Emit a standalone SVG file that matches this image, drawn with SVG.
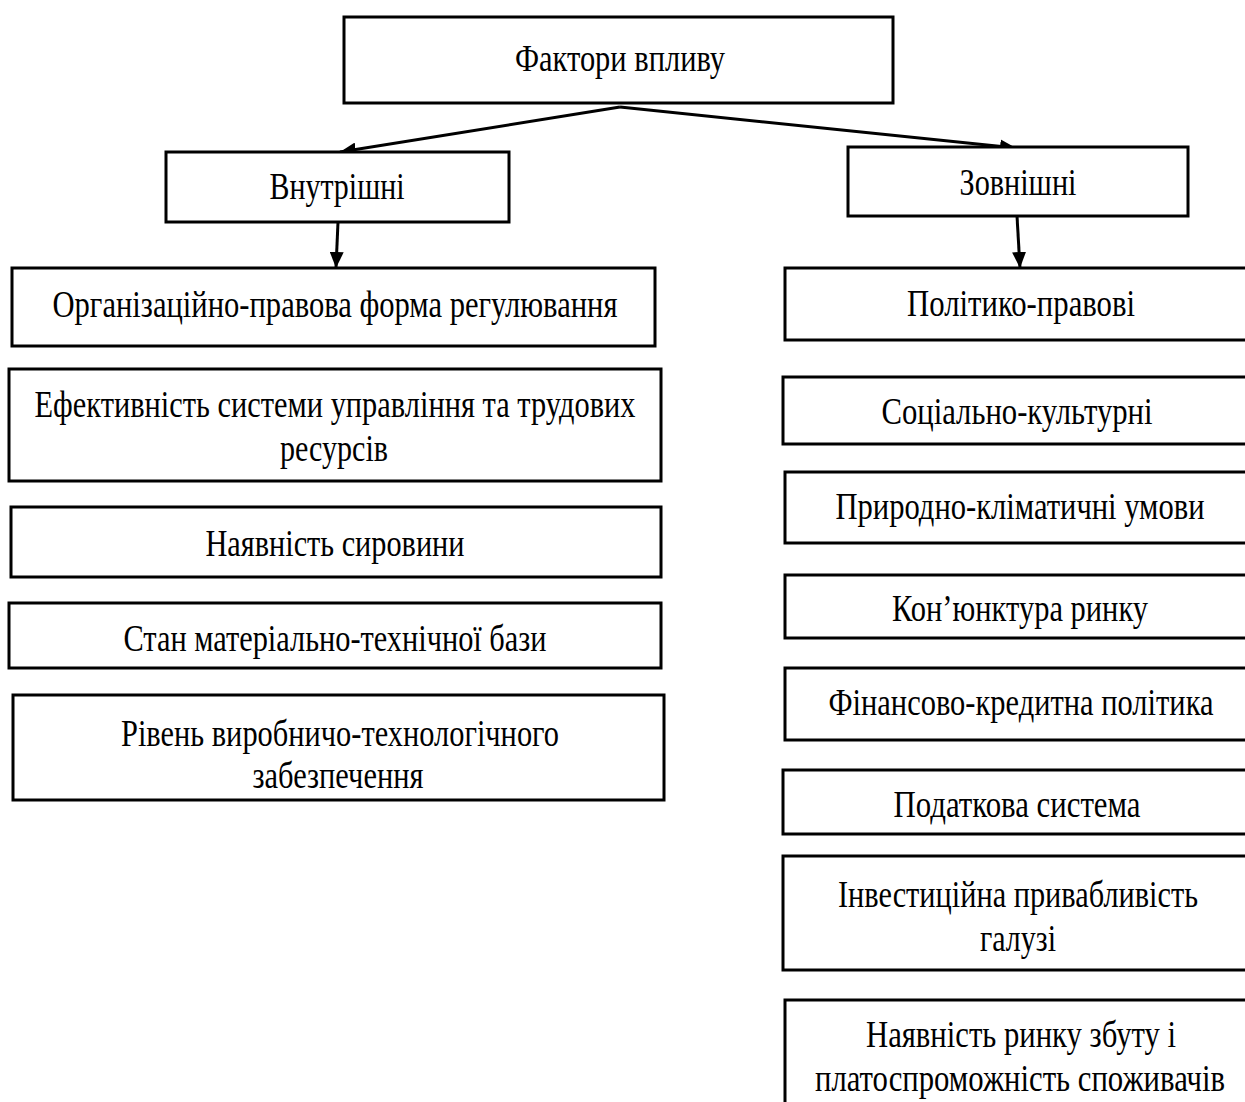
<svg xmlns="http://www.w3.org/2000/svg" width="1245" height="1102" viewBox="0 0 1245 1102">
<style>
.box{fill:#fff;stroke:#000;stroke-width:3}
.t{font-family:"Liberation Serif","Times New Roman",serif;font-size:37px;fill:#000;text-anchor:middle}
.c{stroke:#000;stroke-width:3;fill:none}
</style>
<defs>
<marker id="ah" viewBox="0 0 16 14" refX="16" refY="7" markerWidth="16" markerHeight="14" markerUnits="userSpaceOnUse" orient="auto">
<path d="M0,0 L16,7 L0,14 Z" fill="#000"/>
</marker>
</defs>
<rect width="1245" height="1102" fill="#fff"/>
<g id="connectors">
<line class="c" x1="620" y1="107" x2="340" y2="152" marker-end="url(#ah)"/>
<line class="c" x1="620" y1="107" x2="1016" y2="148" marker-end="url(#ah)"/>
<line class="c" x1="338" y1="222" x2="336" y2="268" marker-end="url(#ah)"/>
<line class="c" x1="1017" y1="216" x2="1020" y2="268" marker-end="url(#ah)"/>
</g>
<g id="n-top"><rect class="box" x="344" y="17" width="549" height="86"/><text class="t" x="620" y="71" textLength="210" lengthAdjust="spacingAndGlyphs">Фактори впливу</text></g>
<g id="n-int"><rect class="box" x="166" y="152" width="343" height="70"/><text class="t" x="337" y="199" textLength="135" lengthAdjust="spacingAndGlyphs">Внутрішні</text></g>
<g id="n-ext"><rect class="box" x="848" y="147" width="340" height="69"/><text class="t" x="1018" y="195" textLength="117" lengthAdjust="spacingAndGlyphs">Зовнішні</text></g>
<g id="n-l1"><rect class="box" x="12" y="268" width="643" height="78"/><text class="t" x="335" y="317" textLength="565" lengthAdjust="spacingAndGlyphs">Організаційно-правова форма регулювання</text></g>
<g id="n-l2"><rect class="box" x="9" y="369" width="652" height="112"/><text class="t" x="335" y="417" textLength="601" lengthAdjust="spacingAndGlyphs">Ефективність системи управління та трудових</text><text class="t" x="334" y="461" textLength="108" lengthAdjust="spacingAndGlyphs">ресурсів</text></g>
<g id="n-l3"><rect class="box" x="11" y="507" width="650" height="70"/><text class="t" x="335" y="556" textLength="259" lengthAdjust="spacingAndGlyphs">Наявність сировини</text></g>
<g id="n-l4"><rect class="box" x="9" y="603" width="652" height="65"/><text class="t" x="335" y="651" textLength="423" lengthAdjust="spacingAndGlyphs">Стан матеріально-технічної бази</text></g>
<g id="n-l5"><rect class="box" x="13" y="695" width="651" height="105"/><text class="t" x="340" y="746" textLength="438" lengthAdjust="spacingAndGlyphs">Рівень виробничо-технологічного</text><text class="t" x="338" y="788" textLength="171" lengthAdjust="spacingAndGlyphs">забезпечення</text></g>
<g id="n-r1"><rect class="box" x="785" y="268" width="462" height="72"/><text class="t" x="1021" y="316" textLength="228" lengthAdjust="spacingAndGlyphs">Політико-правові</text></g>
<g id="n-r2"><rect class="box" x="783" y="377" width="464" height="67"/><text class="t" x="1017" y="424" textLength="271" lengthAdjust="spacingAndGlyphs">Соціально-культурні</text></g>
<g id="n-r3"><rect class="box" x="785" y="472" width="462" height="71"/><text class="t" x="1020" y="519" textLength="369" lengthAdjust="spacingAndGlyphs">Природно-кліматичні умови</text></g>
<g id="n-r4"><rect class="box" x="785" y="575" width="462" height="63"/><text class="t" x="1020" y="621" textLength="256" lengthAdjust="spacingAndGlyphs">Кон’юнктура ринку</text></g>
<g id="n-r5"><rect class="box" x="785" y="668" width="462" height="72"/><text class="t" x="1021" y="715" textLength="385" lengthAdjust="spacingAndGlyphs">Фінансово-кредитна політика</text></g>
<g id="n-r6"><rect class="box" x="783" y="770" width="464" height="64"/><text class="t" x="1017" y="817" textLength="247" lengthAdjust="spacingAndGlyphs">Податкова система</text></g>
<g id="n-r7"><rect class="box" x="783" y="856" width="464" height="114"/><text class="t" x="1018" y="907" textLength="360" lengthAdjust="spacingAndGlyphs">Інвестиційна привабливість</text><text class="t" x="1018" y="951" textLength="76" lengthAdjust="spacingAndGlyphs">галузі</text></g>
<g id="n-r8"><rect class="box" x="785" y="1000" width="462" height="120"/><text class="t" x="1021" y="1047" textLength="310" lengthAdjust="spacingAndGlyphs">Наявність ринку збуту і</text><text class="t" x="1020" y="1091" textLength="410" lengthAdjust="spacingAndGlyphs">платоспроможність споживачів</text></g>
</svg>
